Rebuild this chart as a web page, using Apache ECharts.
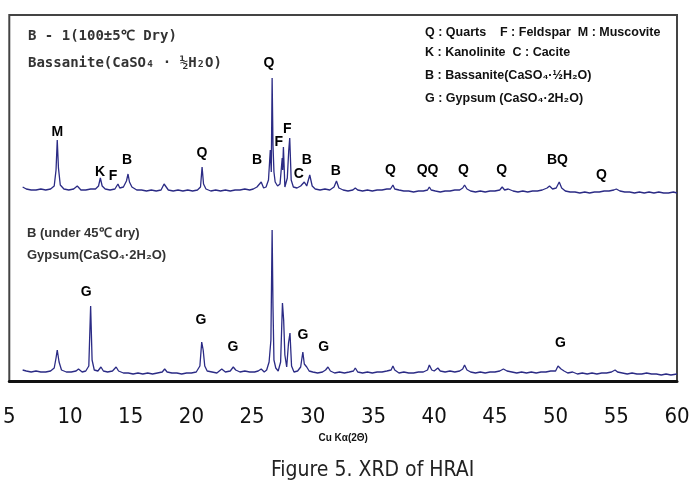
<!DOCTYPE html>
<html><head><meta charset="utf-8">
<script src="https://cdn.jsdelivr.net/npm/echarts@6/dist/echarts.min.js"></script>
<style>html,body{margin:0;padding:0;background:#fff}#c{width:694px;height:483px}</style>
</head><body><div id="c"></div>
<script>
// 2θ (deg) and relative intensity (a.u.)
const topPattern = [[6.1,13],[6.4,11],[6.8,10],[7.2,10],[7.6,11],[8.0,10],[8.4,11],[8.7,14],[8.85,30],[8.95,60],[9.05,32],[9.2,15],[9.5,11],[9.9,10],[10.3,11],[10.6,14],[10.9,10],[11.3,10],[11.7,11],[12.1,11],[12.35,14],[12.5,22],[12.65,14],[12.9,11],[13.3,10],[13.7,11],[13.95,16],[14.1,12],[14.4,13],[14.65,19],[14.78,26],[14.9,18],[15.1,13],[15.5,10],[15.9,10],[16.3,9],[16.7,10],[17.1,9],[17.5,10],[17.75,16],[17.85,14],[18.1,10],[18.5,9],[18.9,10],[19.3,9],[19.7,10],[20.1,9],[20.5,10],[20.75,13],[20.88,33],[21.0,16],[21.2,11],[21.6,9],[22.0,10],[22.4,9],[22.8,10],[23.2,9],[23.6,10],[24.0,10],[24.4,11],[24.8,10],[25.1,11],[25.4,13],[25.75,18],[25.95,12],[26.15,13],[26.35,20],[26.5,50],[26.58,28],[26.65,122],[26.72,55],[26.8,28],[26.9,18],[27.1,14],[27.3,16],[27.4,18],[27.48,42],[27.52,30],[27.58,53],[27.7,13],[27.9,22],[28.02,50],[28.1,62],[28.22,20],[28.4,13],[28.7,12],[29.0,14],[29.3,18],[29.5,14],[29.75,25],[29.95,14],[30.2,11],[30.6,10],[31.0,11],[31.4,10],[31.75,13],[31.95,19],[32.15,12],[32.5,10],[32.9,9],[33.3,10],[33.5,12],[33.7,10],[34.1,9],[34.5,10],[34.9,9],[35.3,10],[35.7,10],[36.1,11],[36.4,11],[36.6,15],[36.75,11],[37.1,10],[37.5,9],[37.9,9],[38.3,8],[38.7,9],[39.1,9],[39.45,10],[39.6,13],[39.75,10],[40.1,9],[40.5,8],[40.9,9],[41.3,9],[41.7,10],[42.1,10],[42.35,12],[42.5,15],[42.7,11],[43.0,9],[43.4,8],[43.8,9],[44.2,8],[44.6,9],[45.0,9],[45.4,10],[45.6,13],[45.8,10],[46.1,11],[46.5,9],[46.9,8],[47.3,9],[47.7,8],[48.1,9],[48.5,9],[48.9,10],[49.3,12],[49.5,14],[49.75,11],[50.05,12],[50.3,18],[50.5,12],[50.8,9],[51.2,8],[51.6,8],[52.0,7],[52.4,8],[52.8,7],[53.2,8],[53.6,8],[54.0,9],[54.4,9],[54.8,10],[55.0,11],[55.3,9],[55.7,8],[56.1,8],[56.5,7],[56.9,8],[57.3,7],[57.7,8],[58.1,7],[58.5,8],[58.9,7],[59.3,7],[59.7,8],[60.0,7]];
const bottomPattern = [[6.1,11],[6.4,10],[6.8,9],[7.2,10],[7.6,9],[8.0,9],[8.4,10],[8.7,13],[8.85,23],[8.95,31],[9.1,19],[9.3,11],[9.7,9],[10.1,9],[10.5,10],[10.7,12],[11.0,9],[11.3,10],[11.55,15],[11.7,75],[11.82,21],[12.0,11],[12.3,10],[12.55,14],[12.75,10],[13.1,9],[13.5,10],[13.8,14],[14.0,10],[14.4,8],[14.8,8],[15.2,7],[15.6,8],[16.0,7],[16.4,8],[16.8,7],[17.2,8],[17.6,9],[17.8,12],[18.0,9],[18.4,8],[18.8,8],[19.2,7],[19.6,8],[20.0,8],[20.4,9],[20.7,15],[20.85,39],[20.97,31],[21.1,15],[21.3,10],[21.7,9],[22.1,8],[22.5,12],[22.8,9],[23.2,10],[23.45,14],[23.65,11],[24.0,9],[24.4,10],[24.8,9],[25.2,9],[25.5,10],[25.75,12],[26.0,9],[26.2,11],[26.4,19],[26.55,41],[26.65,151],[26.72,75],[26.8,21],[26.95,13],[27.15,10],[27.35,19],[27.5,78],[27.6,61],[27.7,26],[27.85,14],[28.0,38],[28.12,48],[28.25,15],[28.45,9],[28.75,10],[29.0,14],[29.18,29],[29.3,17],[29.5,14],[29.7,10],[30.0,9],[30.4,8],[30.8,9],[31.05,11],[31.25,14],[31.45,10],[31.8,8],[32.2,9],[32.6,8],[33.0,9],[33.35,10],[33.5,13],[33.7,9],[34.1,8],[34.5,9],[34.9,8],[35.3,9],[35.7,9],[36.1,10],[36.45,11],[36.6,15],[36.75,11],[37.1,8],[37.5,9],[37.9,8],[38.3,8],[38.7,9],[39.1,9],[39.45,11],[39.6,16],[39.8,11],[40.0,10],[40.3,13],[40.5,10],[40.9,9],[41.3,10],[41.7,9],[42.1,10],[42.35,12],[42.5,16],[42.7,11],[43.0,9],[43.4,8],[43.8,9],[44.2,8],[44.6,9],[45.0,9],[45.4,10],[45.7,12],[46.0,10],[46.4,9],[46.8,8],[47.2,9],[47.6,8],[48.0,9],[48.4,8],[48.8,9],[49.2,9],[49.6,10],[50.0,10],[50.2,15],[50.3,17],[50.45,12],[50.7,10],[51.0,8],[51.4,9],[51.8,7],[52.2,8],[52.6,7],[53.0,8],[53.4,7],[53.8,8],[54.2,8],[54.6,9],[54.9,11],[55.1,9],[55.5,8],[55.9,7],[56.3,8],[56.7,7],[57.1,7],[57.5,8],[57.9,7],[58.3,7],[58.7,6],[59.1,7],[59.5,6],[60.0,7]];
const topOffset = 181;
// peak identification labels: [name, 2θ, height above trace baseline]
const topPeakNames  = ['M','K','F','B','Q','B','Q','F','F','C','B','B','Q','QQ','Q','Q','BQ','Q'];
const topPeakTheta  = [8.95,12.48,13.55,14.7,20.87,25.4,26.38,27.2,27.9,28.85,29.5,31.9,36.4,39.45,42.4,45.55,50.15,53.77];
const topPeakLevel  = [68,28,24,40,47,40,137,58,71,26,40,29,30,30,30,30,40,25];
const bottomPeakNames = ['G','G','G','G','G','G'];
const bottomPeakTheta = [11.33,20.79,23.42,29.18,30.9,50.4];
const bottomPeakLevel = [89,61,34,46,34,38];
const xTicks = [5,10,15,20,25,30,35,40,45,50,55,60];

const lineColor = '#2b2b85';
const chart = echarts.init(document.getElementById('c'), null, {renderer:'canvas'});
function labelSeries(names, theta, level, off){
  return {
    type:'scatter', symbolSize:0, silent:true, z:5,
    itemStyle:{color:'#000', opacity:1},
    data: names.map((n,i)=>({value:[theta[i], level[i]+off], name:n})),
    label:{show:true, position:'inside', formatter:p=>p.name,
      fontFamily:'Liberation Sans, Arial, sans-serif', fontWeight:'bold', fontSize:14,
      color:'#000', textBorderWidth:0}
  };
}
chart.setOption({
  animation:false,
  backgroundColor:'#fff',
  grid:{left:8, right:17, top:15, bottom:102, show:true, borderColor:'#444', borderWidth:2, backgroundColor:'transparent'},
  xAxis:{type:'value', min:5, max:60, interval:5,
    axisLine:{show:true, lineStyle:{color:'#111', width:3}},
    axisTick:{show:false}, splitLine:{show:false},
    axisLabel:{margin:25, fontSize:22, color:'#111', fontFamily:'DejaVu Sans Condensed, sans-serif',
      formatter:v=> xTicks.includes(v) ? String(v) : ''},
    name:'Cu Kα(2Θ)', nameLocation:'middle', nameGap:44,
    nameTextStyle:{fontSize:10, fontWeight:'bold', color:'#111', fontFamily:'Liberation Sans, Arial, sans-serif'}
  },
  yAxis:{type:'value', min:0, max:366, show:false, splitLine:{show:false}},
  title:{text:'Figure 5. XRD of HRAI', left:266, top:455,
    textStyle:{fontSize:21, fontWeight:'normal', color:'#222', fontFamily:'DejaVu Sans Condensed, sans-serif'}},
  graphic:[
    {type:'text', left:28, top:29, style:{text:'B - 1(100±5℃ Dry)', font:'bold 14px "DejaVu Sans Mono", monospace', fill:'#333'}},
    {type:'text', left:28, top:56, style:{text:'Bassanite(CaSO₄ · ½H₂O)', font:'bold 14px "DejaVu Sans Mono", monospace', fill:'#333'}},
    {type:'text', left:27, top:227, style:{text:'B (under 45℃ dry)', font:'bold 13px "Liberation Sans", Arial, sans-serif', fill:'#333'}},
    {type:'text', left:27, top:249, style:{text:'Gypsum(CaSO₄·2H₂O)', font:'bold 13px "Liberation Sans", Arial, sans-serif', fill:'#333'}},
    {type:'text', left:425, top:26, style:{text:'Q : Quarts    F : Feldspar  M : Muscovite', font:'bold 12.5px "Liberation Sans", sans-serif', fill:'#111'}},
    {type:'text', left:425, top:46, style:{text:'K : Kanolinite  C : Cacite', font:'bold 12.5px "Liberation Sans", sans-serif', fill:'#111'}},
    {type:'text', left:425, top:69, style:{text:'B : Bassanite(CaSO₄·½H₂O)', font:'bold 12.5px "Liberation Sans", sans-serif', fill:'#111'}},
    {type:'text', left:425, top:92, style:{text:'G : Gypsum (CaSO₄·2H₂O)', font:'bold 12.5px "Liberation Sans", sans-serif', fill:'#111'}}
  ],
  series:[
    {type:'line', name:'B-1 (100±5℃ dry)', showSymbol:false, symbol:'none', silent:true,
      lineStyle:{color:lineColor, width:1.3},
      data: topPattern.map(p=>[p[0], p[1]+topOffset])},
    {type:'line', name:'B (under 45℃ dry)', showSymbol:false, symbol:'none', silent:true,
      lineStyle:{color:lineColor, width:1.3},
      data: bottomPattern.map(p=>[p[0], p[1]])},
    labelSeries(topPeakNames, topPeakTheta, topPeakLevel, topOffset),
    labelSeries(bottomPeakNames, bottomPeakTheta, bottomPeakLevel, 0)
  ]
});
</script></body></html>
